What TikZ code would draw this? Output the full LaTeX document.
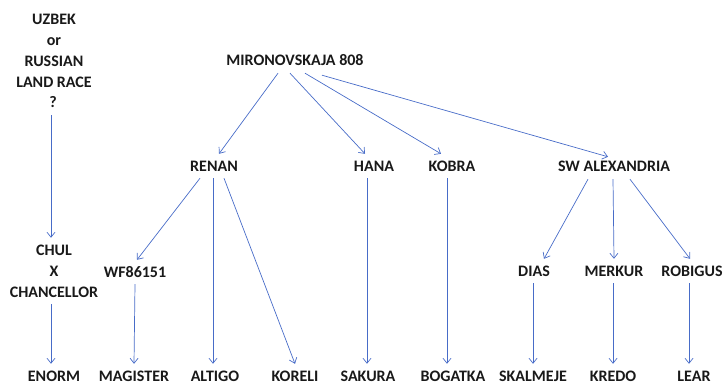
\documentclass[tikz,border=0pt]{standalone}
\usepackage{fontspec}
\setmainfont{Carlito}
\usetikzlibrary{arrows.meta}
\definecolor{linkblue}{RGB}{72,108,200}
\definecolor{inkblack}{RGB}{25,25,25}
\tikzset{
  lbl/.style={font=\bfseries\fontsize{16}{19}\selectfont, text=inkblack, text height=10pt, text depth=0pt, inner xsep=2pt, inner ysep=7pt},
  link/.style={draw=linkblue, line width=0.7pt, -{Straight Barb[length=5pt,width=8pt]}}
}
\begin{document}
\begin{tikzpicture}[x=1pt,y=-1pt]
\useasboundingbox (0,0) rectangle (725,385);
% left column
\node[lbl] (uzbek) at (54,20) {UZBEK};
\node[lbl] (or) at (54,41) {or};
\node[lbl] (russian) at (54,62) {RUSSIAN};
\node[lbl] (landrace) at (54,83) {LAND RACE};
\node[lbl] (q) at (53,103) {?};
\node[lbl] (chul) at (54,250) {CHUL};
\node[lbl] (x) at (54,271) {X};
\node[lbl] (chancellor) at (54,292) {CHANCELLOR};
% top
\node[lbl] (miro) at (295,61) {MIRONOVSKAJA 808};
% middle row
\node[lbl] (renan) at (214,166) {RENAN};
\node[lbl] (hana) at (374,166) {HANA};
\node[lbl] (kobra) at (452,166) {KOBRA};
\node[lbl] (sw) at (614,166) {SW ALEXANDRIA};
% third row
\node[lbl] (wf) at (135,272) {WF86151};
\node[lbl] (dias) at (534,271) {DIAS};
\node[lbl] (merkur) at (614,271) {MERKUR};
\node[lbl] (robigus) at (692,271) {ROBIGUS};
% bottom row
\node[lbl] (enorm) at (54,376) {ENORM};
\node[lbl] (magister) at (134,376) {MAGISTER};
\node[lbl] (altigo) at (215,376) {ALTIGO};
\node[lbl] (koreli) at (295,376) {KORELI};
\node[lbl] (sakura) at (368,376) {SAKURA};
\node[lbl] (bogatka) at (453,376) {BOGATKA};
\node[lbl] (skalmeje) at (533,376) {SKALMEJE};
\node[lbl] (kredo) at (613,376) {KREDO};
\node[lbl] (lear) at (694,376) {LEAR};
% connectors
\draw[link] ([xshift=-2pt]q.south) -- ([xshift=-3pt]chul.north);
\draw[link] ([xshift=-3pt]chancellor.south) -- ([xshift=-3pt]enorm.north);
\draw[link] ([xshift=-17pt]miro.south) -- ([xshift=5pt]renan.north);
\draw[link] ([xshift=-5pt]miro.south) -- ([xshift=-9pt]hana.north);
\draw[link] ([xshift=10pt]miro.south) -- ([xshift=-11pt]kobra.north);
\draw[link] ([xshift=27pt,yshift=-2pt]miro.south) -- ([xshift=-6pt,yshift=-3pt]sw.north);
\draw[link] ([xshift=-14pt]renan.south) -- ([xshift=2pt]wf.north);
\draw[link] ([xshift=-1pt]renan.south) -- ([xshift=-2pt]altigo.north);
\draw[link] ([xshift=10pt]renan.south) -- (koreli.north);
\draw[link] (wf.south) -- (magister.north);
\draw[link] ([xshift=-7pt]hana.south) -- ([xshift=-1pt]sakura.north);
\draw[link] ([xshift=-5pt]kobra.south) -- ([xshift=-6pt]bogatka.north);
\draw[link] ([xshift=-26pt,yshift=-1pt]sw.south) -- ([xshift=10pt]dias.north);
\draw[link] ([xshift=-1pt,yshift=-1pt]sw.south) -- (merkur.north);
\draw[link] ([xshift=16pt,yshift=-1pt]sw.south) -- ([xshift=-2pt]robigus.north);
\draw[link] ([xshift=-1pt]dias.south) -- (skalmeje.north);
\draw[link] ([xshift=-1pt]merkur.south) -- (kredo.north);
\draw[link] ([xshift=-3pt]robigus.south) -- ([xshift=-5pt]lear.north);
\end{tikzpicture}
\end{document}
